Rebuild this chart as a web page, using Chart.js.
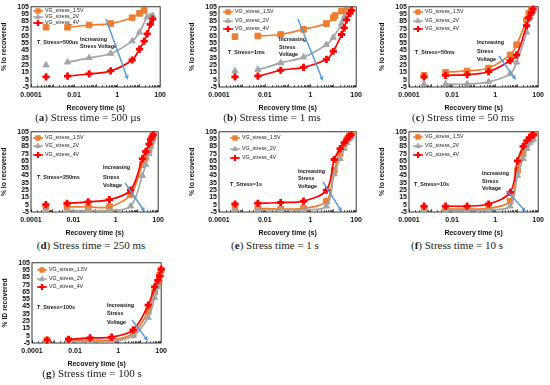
<!DOCTYPE html>
<html><head><meta charset="utf-8">
<script src="https://cdn.jsdelivr.net/npm/chart.js@4.4.0/dist/chart.umd.min.js"></script>
<style>
html,body{margin:0;padding:0;background:#fff}
body{width:550px;height:385px;position:relative;overflow:hidden}
canvas{position:absolute}
.cap{position:absolute;font:11px "Liberation Serif",serif;color:#222;white-space:nowrap;transform:translate(-50%,-50%);line-height:12px}
</style></head><body>
<div id="root"></div>
<script>
// ---------------- DATA ----------------
const seriesNames = ['VG_stress_1.5V', 'VG_stress_2V', 'VG_stress_4V'];
const xTickVals = [0.0001, 0.01, 1, 100];
const xTickLabels = ['0.0001', '0.01', '1', '100'];
const yMin = -5, yMax = 105, yStep = 10;

// (a) Stress time = 500 us
const tA  = [0.0005, 0.005, 0.05, 0.5, 5, 11, 18, 25, 35, 45];
const a15 = [77, 77, 80, 82, 90, 96, 100, null, null, null];
const a2  = [25, 29, 35, 41, 58, 70, null, 91, 92, 93];
const a4  = [9, 10, 13, 17, 32, 47, 58, 68, 81, 88];

// (b) Stress time = 1 ms
const tB  = [0.0005, 0.005, 0.05, 0.5, 5, 10, 12, 23, 30, 38, 54, 63];
const b15 = [64, 65, 67, 74, 82, 90, 93, 99, null, 100, 100, null];
const b2  = [17, 19, 28, 36, 53, 63, null, 82, 90, 95, 100, null];
const b4  = [9, 10, 18, 22, 33, 44, null, 67, 76, 87, 96, 100];

// (c) Stress time = 50 ms
const tC  = [0.0005, 0.005, 0.05, 0.5, 5, 10, 29, 37, 49, 58];
const c15 = [11, 15, 17, 21, 39, 53, 87, 96, 101, null];
const c2  = [-1, -1, -1, 2, 13, 29, 70, 88, 96, 100];
const c4  = [9, 11, 12, 16, 31, 39, 79, 90, 97, 102];

// (d) Stress time = 250 ms
const tD  = [0.0005, 0.005, 0.05, 0.5, 5, 18, 26, 37, 44, 52, 58];
const d15 = [2, 2, 2, 2, 19, 60, 70, 80, 90, 96, 100];
const d2  = [-3, -3, -3, -3, 3, 45, 60, 75, 85, 92, 97];
const d4  = [5, 7, 9, 12, 25, 68, 78, 88, 95, 98, 101];

// (e) Stress time = 1 s
const tE  = [0.0005, 0.005, 0.05, 0.5, 5, 11, 20, 30, 40, 50, 60];
const e15 = [0, 0, -1, 0, 10, 52, 75, 88, 95, 99, 101];
const e2  = [-1, -2, -2, -2, 3, 47, 68, 82, 90, 95, 98];
const e4  = [6, 7, 8, 10, 25, 67, 82, 90, 95, 99, 101];

// (f) Stress time = 10 s
const tF  = [0.0005, 0.005, 0.05, 0.5, 5, 11, 20, 30, 40, 50, 60];
const f15 = [-1, -1, -1, 0, 10, 52, 75, 88, 95, 99, 101];
const f2  = [-3, -3, -3, -2, 3, 45, 68, 82, 90, 93, 95];
const f4  = [3, 3, 3, 6, 22, 65, 85, 93, 97, 100, 101];

// (g) Stress time = 100 s
const tG  = [0.0005, 0.005, 0.05, 0.5, 5, 25, 50, 70, 85, 100];
const g15 = [-1, -1, -1, -1, 8, 38, 65, 78, 88, 95];
const g2  = [-3, -3, -3, -3, 5, 30, 57, 72, 82, 88];
const g4  = [-1, 0, 2, 3, 13, 47, 72, 81, 87, 96];

const stressLabels = ['T_Stress=500us', 'T_Stress=1ms', 'T_Stress=50ms', 'T_Stress=250ms', 'T_Stress=1s', 'T_Stress=10s', 'T_Stress=100s'];
const captionLetters = ['a', 'b', 'c', 'd', 'e', 'f', 'g'];
const captionTexts = ['Stress time = 500 µs', 'Stress time = 1 ms', 'Stress time = 50 ms', 'Stress time = 250 ms', 'Stress time = 1 s', 'Stress time = 10 s', 'Stress time = 100 s'];
const yTitles = ['% Io recovered', '% Io recovered', '% Io recovered', '% Io recovered', '% Io recovered', '% Io recovered', '% ID recovered'];
const noteLines = [['Increasing', 'Stress Voltage'], ['Increasing', 'Stress', 'Voltage'], ['Increasing', 'Stress', 'Voltage'], ['Increasing', 'Stress', 'Voltage'], ['Increasing', 'Stress', 'Voltage'], ['Increasing', 'Stress', 'Voltage'], ['Increasing', 'Stress', 'Voltage']];

const panelData = [
  [tA, a15, a2, a4], [tB, b15, b2, b4], [tC, c15, c2, c4],
  [tD, d15, d2, d4], [tE, e15, e2, e4], [tF, f15, f2, f4], [tG, g15, g2, g4]
];

// ---------------- LAYOUT / STYLE ----------------
const COLORS = ['#ED7D31', '#A5A5A5', '#FF0000'];
const STYLES = [
  {pointStyle: 'rect', radius: 4, borderWidth: 1},
  {pointStyle: 'triangle', radius: 3.6, borderWidth: 1},
  {pointStyle: 'cross', radius: 3.6, borderWidth: 2.8}
];
// canvas boxes and plot right padding; annotation positions are canvas-relative pixels
const layout = [
  {left: 0,   top: 0,   w: 170, h: 112, padR: 8, leg: {x: 33, ys: [11, 17, 23]}, stress: [37, 43], note: {x: 80, ys: [40, 47]}, arrow: [106, 19, 128, 80], cap: [88, 117]},
  {left: 188, top: 0,   w: 178, h: 112, padR: 8, leg: {x: 35, ys: [12, 21, 29]}, stress: [40, 53], note: {x: 91, ys: [40, 48, 55]}, arrow: [110, 19, 135, 81], cap: [272, 117]},
  {left: 378, top: 0,   w: 170, h: 112, padR: 8, leg: {x: 35, ys: [12, 21, 29]}, stress: [37, 53], note: {x: 99, ys: [43, 52, 60]}, arrow: [121, 56, 138, 80], cap: [463, 117]},
  {left: 0,   top: 125, w: 168, h: 112, padR: 8, leg: {x: 33, ys: [13, 21, 30]}, stress: [37, 53], note: {x: 103, ys: [43, 53, 61]}, arrow: [125, 58, 145, 87], cap: [91, 245]},
  {left: 188, top: 125, w: 178, h: 112, padR: 8, leg: {x: 42, ys: [13, 24, 33]}, stress: [42, 60], note: {x: 110, ys: [47, 54, 62]}, arrow: [135, 57, 154, 87], cap: [275, 245]},
  {left: 378, top: 125, w: 170, h: 112, padR: 8, leg: {x: 35, ys: [12, 21, 30]}, stress: [36, 60], note: {x: 104, ys: [49, 57, 64]}, arrow: [129, 66, 148, 87], cap: [457, 245]},
  {left: 1,   top: 256, w: 170, h: 112, padR: 8, leg: {x: 36, ys: [14, 23, 31]}, stress: [36, 52], note: {x: 106, ys: [50, 58, 67]}, arrow: [131, 64, 147, 85], cap: [92, 373]}
];

const FONT = '"Liberation Sans", Arial, sans-serif';

const decoPlugin = {
  id: 'deco',
  beforeDatasetsDraw(chart) {
    const {ctx, chartArea: ca} = chart;
    const xs = chart.scales.x;
    ctx.save();
    ctx.strokeStyle = '#000';
    ctx.lineWidth = 0.8;
    ctx.strokeRect(ca.left, ca.top, ca.right - ca.left, ca.bottom - ca.top);
    ctx.beginPath();
    for (let e = -4; e < 2; e++) {
      for (let k = 1; k < 10; k++) {
        const px = Math.round(xs.getPixelForValue(k * Math.pow(10, e))) + 0.5;
        ctx.moveTo(px, ca.bottom);
        ctx.lineTo(px, ca.bottom - (k === 1 ? 3 : 2));
      }
    }
    ctx.lineWidth = 0.6;
    ctx.stroke();
    ctx.restore();
  },
  afterDatasetsDraw(chart, args, opts) {
    const {ctx} = chart;
    const L = opts.lay;
    ctx.save();
    // legend
    for (let i = 0; i < 3; i++) {
      const y = L.leg.ys[i], x = L.leg.x;
      ctx.strokeStyle = COLORS[i];
      ctx.fillStyle = COLORS[i];
      ctx.lineWidth = 1.5;
      ctx.beginPath(); ctx.moveTo(x, y); ctx.lineTo(x + 10, y); ctx.stroke();
      const st = STYLES[i];
      ctx.lineWidth = st.borderWidth * 0.8;
      Chart.helpers.drawPoint(ctx, {pointStyle: st.pointStyle, radius: st.radius * 0.8, rotation: 0, borderWidth: st.borderWidth}, x + 5, y);
      ctx.fillStyle = '#222';
      ctx.font = '5.3px ' + FONT;
      ctx.textBaseline = 'middle';
      ctx.fillText(seriesNames[i], x + 12, y);
    }
    // stress label
    ctx.fillStyle = '#111';
    ctx.font = 'bold 5.4px ' + FONT;
    ctx.textBaseline = 'middle';
    ctx.fillText(opts.stress, L.stress[0], L.stress[1]);
    opts.note.forEach((s, i) => ctx.fillText(s, L.note.x, L.note.ys[i]));
    // arrow
    const [x1, y1, x2, y2] = L.arrow;
    ctx.strokeStyle = '#5B9BD5';
    ctx.fillStyle = '#5B9BD5';
    ctx.lineWidth = 1.5;
    const ang = Math.atan2(y2 - y1, x2 - x1);
    const hl = 4.5;
    ctx.beginPath(); ctx.moveTo(x1, y1);
    ctx.lineTo(x2 - Math.cos(ang) * hl * 0.8, y2 - Math.sin(ang) * hl * 0.8); ctx.stroke();
    ctx.beginPath();
    ctx.moveTo(x2, y2);
    ctx.lineTo(x2 - hl * Math.cos(ang) + 2.2 * Math.sin(ang), y2 - hl * Math.sin(ang) - 2.2 * Math.cos(ang));
    ctx.lineTo(x2 - hl * Math.cos(ang) - 2.2 * Math.sin(ang), y2 - hl * Math.sin(ang) + 2.2 * Math.cos(ang));
    ctx.closePath(); ctx.fill();
    ctx.restore();
  }
};

const root = document.getElementById('root');
panelData.forEach((pd, p) => {
  const L = layout[p];
  const cv = document.createElement('canvas');
  cv.width = L.w; cv.height = L.h;
  cv.style.left = L.left + 'px'; cv.style.top = L.top + 'px';
  cv.style.width = L.w + 'px'; cv.style.height = L.h + 'px';
  root.appendChild(cv);

  const cap = document.createElement('div');
  cap.className = 'cap';
  cap.style.left = L.cap[0] + 'px'; cap.style.top = L.cap[1] + 'px';
  cap.innerHTML = '(<b>' + captionLetters[p] + '</b>) ' + captionTexts[p];
  document.body.appendChild(cap);

  const [T, ...vals] = pd;
  const datasets = vals.map((v, i) => ({
    label: seriesNames[i],
    data: T.map((t, j) => ({x: t, y: v[j]})).filter(d => d.y !== null),
    borderColor: COLORS[i],
    backgroundColor: COLORS[i],
    pointBackgroundColor: COLORS[i],
    pointBorderColor: COLORS[i],
    pointStyle: STYLES[i].pointStyle,
    pointRadius: STYLES[i].radius,
    pointBorderWidth: STYLES[i].borderWidth,
    borderWidth: 1.7,
    tension: 0.35,
    clip: 6,
    segment: {borderColor: ctx => ctx.p0DataIndex === 0 ? 'rgba(0,0,0,0)' : undefined},
    order: 3 - i
  }));

  new Chart(cv, {
    type: 'line',
    data: {datasets},
    plugins: [decoPlugin],
    options: {
      responsive: false,
      animation: false,
      devicePixelRatio: 1,
      layout: {padding: {top: 6, right: L.padR, left: 0, bottom: 0}},
      plugins: {
        legend: {display: false},
        tooltip: {enabled: false},
        deco: {lay: L, stress: stressLabels[p], note: noteLines[p]}
      },
      scales: {
        x: {
          type: 'logarithmic',
          min: xTickVals[0], max: xTickVals[xTickVals.length - 1],
          afterBuildTicks: s => { s.ticks = xTickVals.map(v => ({value: v})); },
          afterFit: s => { s.height = 25; },
          ticks: {
            autoSkip: false, maxRotation: 0, padding: 4,
            color: '#111', font: {family: FONT, size: 7, weight: 'bold'},
            callback: (v) => { const i = xTickVals.findIndex(t => Math.abs(Math.log10(t) - Math.log10(v)) < 1e-6); return i >= 0 ? xTickLabels[i] : ''; }
          },
          grid: {display: false, drawTicks: false},
          border: {display: false},
          title: {display: true, text: 'Recovery time (s)', color: '#111', font: {family: FONT, size: 7, weight: 'bold'}, padding: {top: 1, bottom: 0}}
        },
        y: {
          type: 'linear', min: yMin, max: yMax,
          afterFit: s => { s.width = 31; },
          ticks: {stepSize: yStep, autoSkip: false, padding: 2, color: '#111', font: {family: FONT, size: 7, weight: 'bold'}},
          grid: {display: false, drawTicks: false},
          border: {display: false},
          title: {display: true, text: yTitles[p], color: '#111', font: {family: FONT, size: 6.8, weight: 'bold'}, padding: {top: 0, bottom: 1}}
        }
      }
    }
  });
});
</script>
</body></html>
